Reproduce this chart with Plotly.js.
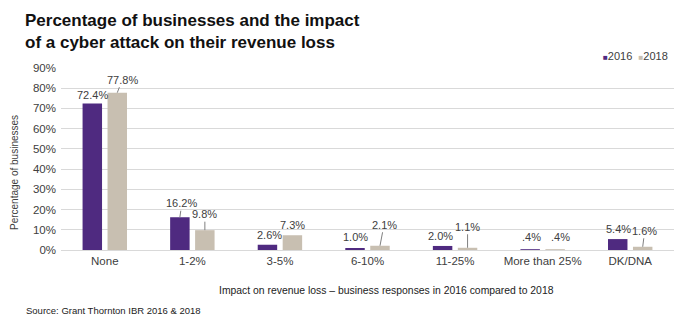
<!DOCTYPE html>
<html>
<head>
<meta charset="utf-8">
<script src="https://cdn.plot.ly/plotly-3.0.1.min.js"></script>
<style>html,body{margin:0;padding:0;background:#fff;}#chart{width:690px;height:327px;}</style>
</head>
<body>
<div id="chart"></div>
<script>
const categories = ["None", "1-2%", "3-5%", "6-10%", "11-25%", "More than 25%", "DK/DNA"];
const values2016 = [72.4, 16.2, 2.6, 1.0, 2.0, 0.4, 5.4];
const values2018 = [77.8, 9.8, 7.3, 2.1, 1.1, 0.4, 1.6];
const labels2016 = ["72.4%", "16.2%", "2.6%", "1.0%", "2.0%", ".4%", "5.4%"];
const labels2018 = ["77.8%", "9.8%", "7.3%", "2.1%", "1.1%", ".4%", "1.6%"];
const seriesNames = ["2016", "2018"];
const yTickVals = [0, 10, 20, 30, 40, 50, 60, 70, 80, 90];
const yTickText = ["0%", "10%", "20%", "30%", "40%", "50%", "60%", "70%", "80%", "90%"];

// label placement: [showArrow, ax, ay, xshift-extra, yshift]
const place2016 = [[false,0,0,0,1],[true,2,-14,0,0],[false,0,0,2,2],[false,0,0,0,3],[false,0,0,-2,2],[false,0,0,1,4],[false,0,0,1,2]];
const place2018 = [[true,5,-13,0,0],[true,0,-16,0,0],[false,0,0,0,2],[true,4,-21,0,0],[true,0,-21,0,0],[false,0,0,5,4],[true,2,-16,0,0]];

const C16 = "#4f2a80", C18 = "#c8bfb1";
const FF = "Liberation Sans, Arial, sans-serif";
const off = 12.5;
const annFont = {family: FF, size: 11, color: "#404040"};
const annotations = [];
function addLabels(vals, labels, place, shift) {
  vals.forEach((v, i) => {
    const p = place[i];
    if (p[0]) {
      annotations.push({x: categories[i], y: v, xref: "x", yref: "y", text: labels[i],
        showarrow: true, arrowhead: 0, arrowwidth: 1, arrowcolor: "#7f7f7f",
        ax: p[1], ay: p[2], xshift: shift + p[3], font: annFont, standoff: 0});
    } else {
      annotations.push({x: categories[i], y: v, xref: "x", yref: "y", text: labels[i],
        showarrow: false, yanchor: "bottom", xanchor: "center",
        xshift: shift + p[3], yshift: p[4], font: annFont});
    }
  });
}
addLabels(values2016, labels2016, place2016, -off);
addLabels(values2018, labels2018, place2018, off);

// plot area: x 61..674, y 68..250 (182px)
const PW = 613, PH = 182;
const px = (X) => (X - 61) / PW;
const py = (Y) => (250 - Y) / PH;

annotations.push({xref: "paper", yref: "paper", x: px(23), y: py(9), xanchor: "left", yanchor: "top",
  align: "left", showarrow: false,
  text: "<b>Percentage of businesses and the impact<br>of a cyber attack on their revenue loss</b>",
  font: {family: FF, size: 17, color: "#111"}});
annotations.push({xref: "paper", yref: "paper", x: px(386), y: py(290), xanchor: "center", yanchor: "middle",
  text: "Impact on revenue loss – business responses in 2016 compared to 2018", showarrow: false,
  font: {family: FF, size: 10.4, color: "#222"}});
annotations.push({xref: "paper", yref: "paper", x: px(24), y: py(310), xanchor: "left", yanchor: "middle",
  text: "Source: Grant Thornton IBR 2016 & 2018", showarrow: false,
  font: {family: FF, size: 9.5, color: "#222"}});
annotations.push({xref: "paper", yref: "paper", x: px(14), y: py(173), xanchor: "center", yanchor: "middle",
  text: "Percentage of businesses", textangle: -90, showarrow: false,
  font: {family: FF, size: 10, color: "#404040"}});
annotations.push({xref: "paper", yref: "paper", x: px(601), y: py(56), xanchor: "left", yanchor: "middle",
  text: "<span style='color:" + C16 + ";font-size:8px'>■</span>" + seriesNames[0] +
        "  <span style='color:" + C18 + ";font-size:8px'>■</span>" + seriesNames[1],
  showarrow: false, font: {family: FF, size: 11, color: "#404040"}});

const data = [
  {type: "bar", name: seriesNames[0], x: categories, y: values2016, marker: {color: C16}, hoverinfo: "none"},
  {type: "bar", name: seriesNames[1], x: categories, y: values2018, marker: {color: C18}, hoverinfo: "none"}
];

const layout = {
  width: 690, height: 327,
  margin: {l: 61, r: 16, t: 68, b: 77},
  paper_bgcolor: "#fff", plot_bgcolor: "#fff",
  font: {family: FF, color: "#404040"},
  barmode: "group", bargap: 0.43, bargroupgap: 0.22,
  showlegend: false,
  xaxis: {type: "category", showgrid: false, showline: true, linecolor: "#d9d9d9", linewidth: 1,
    ticks: "", tickfont: {size: 11.5, color: "#404040"}, fixedrange: true},
  yaxis: {range: [0, 90], tickvals: yTickVals, ticktext: yTickText, showgrid: true,
    gridcolor: "#d9d9d9", gridwidth: 1, zeroline: false, showline: false,
    tickfont: {size: 11.5, color: "#404040"}, ticks: "", ticklabelstandoff: 4,
    fixedrange: true},
  annotations: annotations
};

Plotly.newPlot("chart", data, layout, {displayModeBar: false, staticPlot: true});
</script>
</body>
</html>
